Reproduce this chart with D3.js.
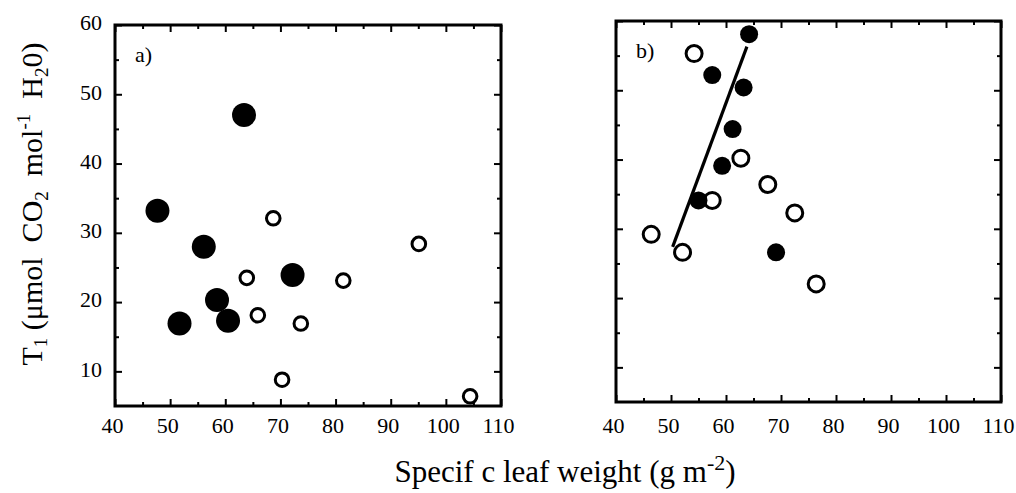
<!DOCTYPE html>
<html>
<head>
<meta charset="utf-8">
<script src="https://cdn.jsdelivr.net/npm/d3@7"></script>
<style>
  html, body { margin: 0; padding: 0; background: #fff; }
  svg { display: block; }
  text { font-family: "Liberation Serif", "Times New Roman", serif; fill: #000; white-space: pre; }
</style>
</head>
<body>
<svg id="chart" width="1016" height="493"></svg>
<script>
// Axis ranges and tick values shared by both panels
const xDomain = [40, 110];
const yDomain = [5, 60];
const xMajorTicks = [40, 50, 60, 70, 80, 90, 100, 110];
const xMinorTicks = [45, 55, 65, 75, 85, 95, 105];
const yMajorTicks = [10, 20, 30, 40, 50, 60];
const yMinorTicks = [15, 25, 35, 45, 55];

// Panel a) : specific leaf weight vs T1
const aFilledX = [63.4, 47.7, 56.1, 72.2, 58.5, 51.7, 60.5];
const aFilledY = [47.0, 33.2, 28.0, 23.9, 20.3, 16.9, 17.3];
const aOpenX = [68.7, 95.1, 63.9, 81.4, 65.9, 73.7, 70.3, 104.4];
const aOpenY = [32.1, 28.4, 23.5, 23.1, 18.1, 16.9, 8.8, 6.4];

// Panel b)
const bFilledX = [64.2, 57.5, 63.2, 61.2, 59.3, 55.0, 69.1];
const bFilledY = [58.1, 52.2, 50.4, 44.4, 39.1, 34.1, 26.6];
const bOpenX = [54.2, 62.7, 67.6, 57.5, 72.5, 46.4, 52.1, 76.4];
const bOpenY = [55.3, 40.2, 36.4, 34.1, 32.3, 29.2, 26.6, 22.05];
// Fitted line through the filled points of panel b)
const bLineX = [50.3, 63.8];
const bLineY = [27.4, 56.3];

const svg = d3.select("#chart");

function zip(xs, ys) { return xs.map((x, i) => ({ x, y: ys[i] })); }

function drawPanel(opt) {
  const { left, right, top, bottom } = opt.box;
  const x = d3.scaleLinear().domain(xDomain).range([left, right]);
  const y = d3.scaleLinear().domain(yDomain).range([bottom, top]);
  const g = svg.append("g");

  const tickStyle = sel => {
    sel.select(".domain").remove();
    sel.selectAll(".tick line").attr("stroke", "#000").attr("stroke-width", 2);
  };

  // minor ticks on every side, pointing inward
  g.append("g").attr("transform", `translate(0,${bottom})`)
    .call(d3.axisBottom(x).tickValues(xMinorTicks).tickSize(-4).tickFormat(""))
    .call(tickStyle);
  g.append("g").attr("transform", `translate(0,${top})`)
    .call(d3.axisTop(x).tickValues(xMinorTicks).tickSize(-4).tickFormat(""))
    .call(tickStyle);
  g.append("g").attr("transform", `translate(${left},0)`)
    .call(d3.axisLeft(y).tickValues(yMinorTicks).tickSize(-4).tickFormat(""))
    .call(tickStyle);
  g.append("g").attr("transform", `translate(${right},0)`)
    .call(d3.axisRight(y).tickValues(yMinorTicks).tickSize(-4).tickFormat(""))
    .call(tickStyle);

  // major ticks
  const xb = g.append("g").attr("transform", `translate(0,${bottom})`)
    .call(d3.axisBottom(x).tickValues(xMajorTicks).tickSize(-7).tickPadding(opt.xPad).tickFormat(d3.format("d")))
    .call(tickStyle);
  xb.selectAll("text").attr("font-size", 22).attr("font-family", "Liberation Serif, serif")
    .attr("dx", -3);
  g.append("g").attr("transform", `translate(0,${top})`)
    .call(d3.axisTop(x).tickValues(xMajorTicks).tickSize(-7).tickFormat(""))
    .call(tickStyle);
  const yl = g.append("g").attr("transform", `translate(${left},0)`)
    .call(d3.axisLeft(y).tickValues(yMajorTicks).tickSize(-7).tickPadding(13)
      .tickFormat(opt.yLabels ? d3.format("d") : ""))
    .call(tickStyle);
  yl.selectAll("text").attr("font-size", 22).attr("font-family", "Liberation Serif, serif")
    .attr("dy", "0.22em");
  g.append("g").attr("transform", `translate(${right},0)`)
    .call(d3.axisRight(y).tickValues(yMajorTicks).tickSize(-7).tickFormat(""))
    .call(tickStyle);

  // frame
  g.append("rect")
    .attr("x", left).attr("y", top)
    .attr("width", right - left).attr("height", bottom - top)
    .attr("fill", "none").attr("stroke", "#000").attr("stroke-width", 3);

  // panel letter
  g.append("text")
    .attr("x", left + opt.labelDx).attr("y", top + 37)
    .attr("font-size", 22)
    .text(opt.label);

  // optional fitted line
  if (opt.line) {
    const line = d3.line().x(d => x(d.x)).y(d => y(d.y));
    g.append("path")
      .datum(zip(opt.line[0], opt.line[1]))
      .attr("d", line)
      .attr("fill", "none").attr("stroke", "#000").attr("stroke-width", 3.2);
  }

  // open circles
  g.selectAll(null).data(zip(opt.openX, opt.openY)).enter()
    .append("circle")
    .attr("cx", d => x(d.x)).attr("cy", d => y(d.y))
    .attr("r", opt.openR)
    .attr("fill", "#fff").attr("stroke", "#000").attr("stroke-width", 3);

  // filled circles
  g.selectAll(null).data(zip(opt.filledX, opt.filledY)).enter()
    .append("circle")
    .attr("cx", d => x(d.x)).attr("cy", d => y(d.y))
    .attr("r", opt.filledR)
    .attr("fill", "#000");
}

drawPanel({
  box: { left: 115, right: 501, top: 25, bottom: 406 },
  filledX: aFilledX, filledY: aFilledY,
  openX: aOpenX, openY: aOpenY,
  filledR: 12, openR: 6.8,
  yLabels: true, xPad: 11, label: "a)", labelDx: 20
});

drawPanel({
  box: { left: 616, right: 1001, top: 21, bottom: 402 },
  filledX: bFilledX, filledY: bFilledY,
  openX: bOpenX, openY: bOpenY,
  filledR: 9, openR: 8,
  yLabels: false, xPad: 15, label: "b)", labelDx: 20,
  line: [bLineX, bLineY]
});

// y-axis title
const yTitle = svg.append("text")
  .attr("transform", "translate(42,204) rotate(-90)")
  .attr("text-anchor", "middle")
  .attr("font-size", 30);
yTitle.append("tspan").text("T");
yTitle.append("tspan").attr("font-size", 19).attr("dy", 5).text("1");
yTitle.append("tspan").attr("dy", -5).text(" (μmol  CO");
yTitle.append("tspan").attr("font-size", 19).attr("dy", 6).text("2");
yTitle.append("tspan").attr("dy", -6).text("  mol");
yTitle.append("tspan").attr("font-size", 19).attr("dy", -12).text("-1");
yTitle.append("tspan").attr("dy", 12).text("  H");
yTitle.append("tspan").attr("font-size", 19).attr("dy", 6).text("2");
yTitle.append("tspan").attr("dy", -6).text("0)");

// x-axis title
const xTitle = svg.append("text")
  .attr("x", 565).attr("y", 482)
  .attr("text-anchor", "middle")
  .attr("font-size", 31);
xTitle.append("tspan").text("Specif c leaf weight (g m");
xTitle.append("tspan").attr("font-size", 22).attr("dy", -12).text("-2");
xTitle.append("tspan").attr("dy", 12).text(")");
</script>
</body>
</html>
